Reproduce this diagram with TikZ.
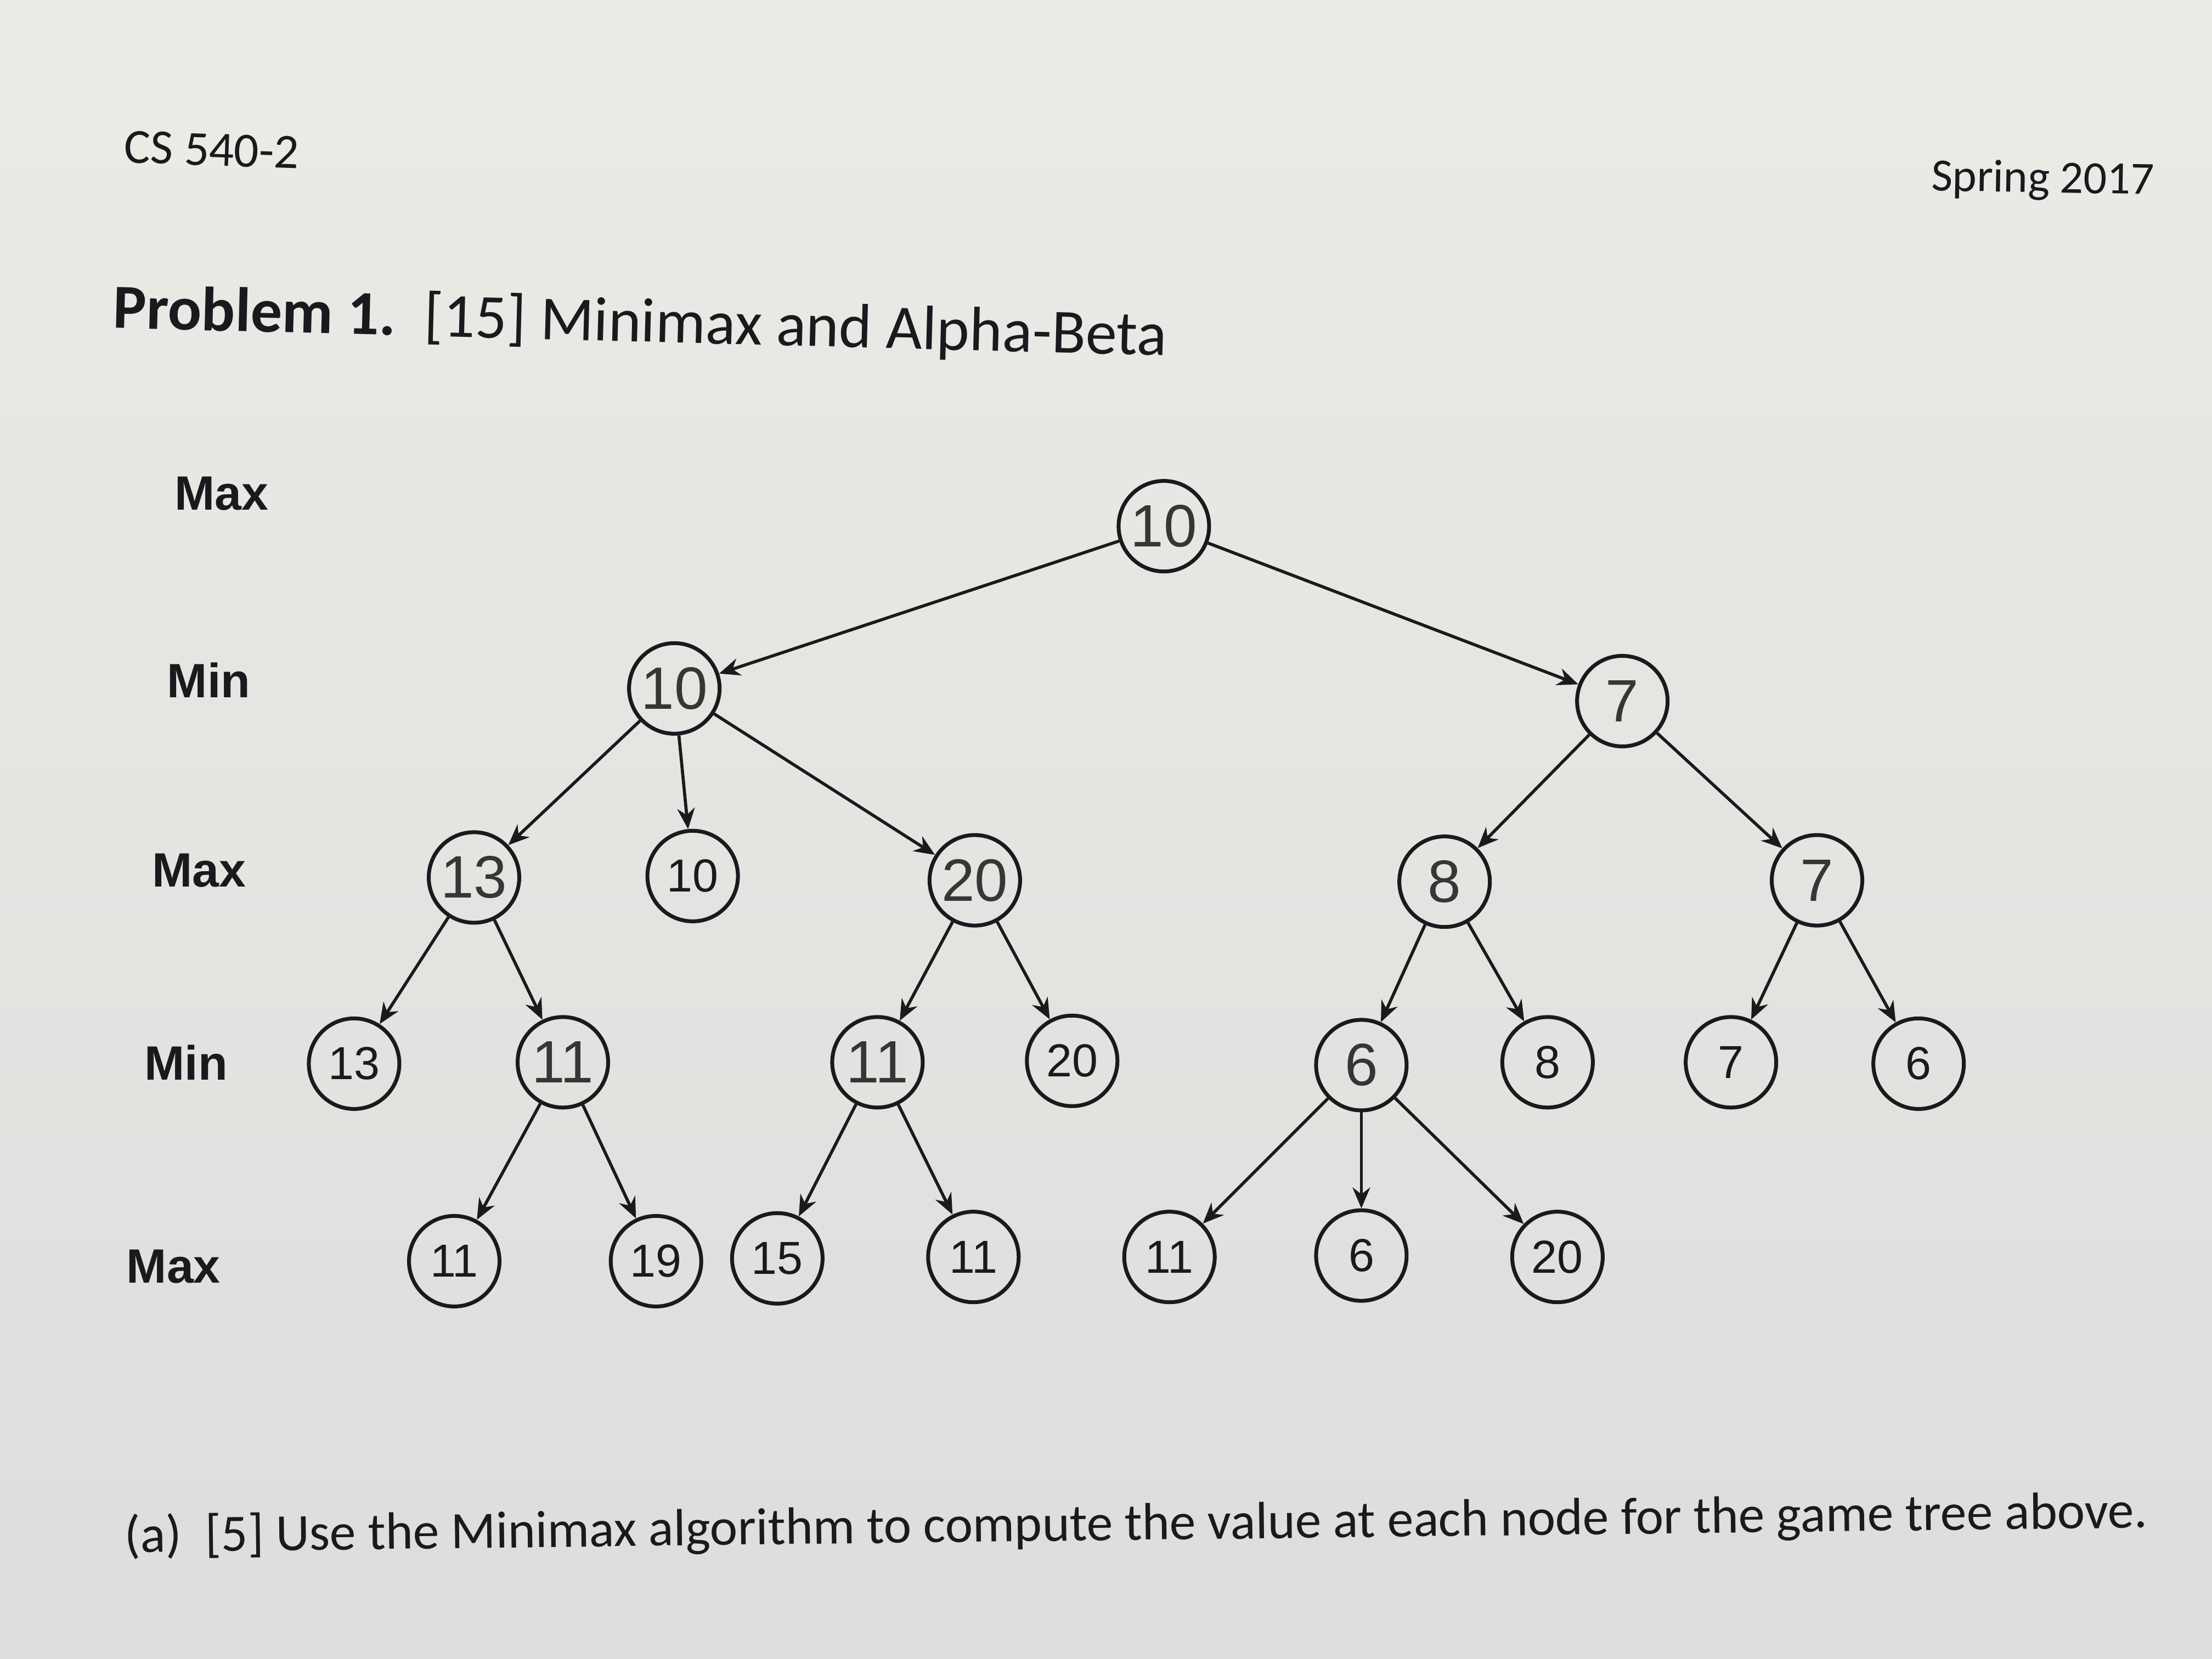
\documentclass[tikz,border=0pt]{standalone}
\usepackage{fontspec}
\setmainfont{Carlito}
\newfontfamily\arialf{Liberation Sans}
\usetikzlibrary{arrows.meta}
\definecolor{papertop}{HTML}{ECEBE6}
\definecolor{paperbot}{HTML}{DDDDDC}
\definecolor{ink}{HTML}{1A1A1E}
\definecolor{pencil}{HTML}{363636}
\begin{document}
\begin{tikzpicture}[x=0.025714cm,y=-0.025714cm,
  tnode/.style={circle,draw=ink,line width=2pt,minimum size=1.65cm,inner sep=0pt,
    font=\arialf\fontsize{24}{24}\selectfont,text=ink},
  hand/.style={tnode,font=\arialf\fontsize{31}{31}\selectfont,text=pencil},
  lvl/.style={font=\arialf\bfseries\fontsize{25}{25}\selectfont,text=ink},
  edge/.style={draw=ink,line width=1.6pt,-{Stealth[length=0.38cm,width=0.32cm]}},
  ptext/.style={text=ink,inner sep=0pt}
  ]
\shade[top color=papertop,bottom color=paperbot] (0,0) rectangle (1568,1176);
\useasboundingbox (0,0) rectangle (1568,1176);

% header and texts
\node[ptext,anchor=west,font=\fontsize{25.5}{26}\selectfont,rotate=-2] (hdr) at (88,104) {CS 540-2};
\node[ptext,font=\fontsize{24}{24}\selectfont,rotate=-1] (sem) at (1448,128) {Spring 2017};
\node[ptext,anchor=west,font=\fontsize{32.5}{33}\selectfont,rotate=-1.5] (title) at (80,220)
  {\textbf{Problem 1.}\ \ [15] Minimax and Alpha-Beta};
\node[ptext,anchor=west,font=\fontsize{27.2}{27}\selectfont,rotate=0.7] (qa) at (88,1090)
  {(a)\ \ [5] Use the Minimax algorithm to compute the value at each node for the game tree above.};

% level labels
\node[lvl] (l1) at (157,350) {Max};
\node[lvl] (l2) at (148,482) {Min};
\node[lvl] (l3) at (141,617) {Max};
\node[lvl] (l4) at (132,753) {Min};
\node[lvl] (l5) at (123,898) {Max};

% tree nodes
\node[hand] (r) at (825,373) {10};
\node[hand] (a) at (478,488) {10};
\node[hand] (b) at (1150,497) {7};
\node[hand] (a1) at (336,622) {13};
\node[tnode] (a2) at (491,621) {10};
\node[hand] (a3) at (691,624) {20};
\node[hand] (b1) at (1024,625) {8};
\node[hand] (b2) at (1288,624) {7};
\node[tnode] (a11) at (251,754) {13};
\node[hand] (a12) at (399,753) {11};
\node[hand] (a31) at (622,753) {11};
\node[tnode] (a32) at (760,752) {20};
\node[hand] (b11) at (965,755) {6};
\node[tnode] (b12) at (1097,753) {8};
\node[tnode] (b21) at (1227,753) {7};
\node[tnode] (b22) at (1360,754) {6};
\node[tnode] (a121) at (322,894) {11};
\node[tnode] (a122) at (465,894) {19};
\node[tnode] (a311) at (551,892) {15};
\node[tnode] (a312) at (690,891) {11};
\node[tnode] (b111) at (829,891) {11};
\node[tnode] (b112) at (965,890) {6};
\node[tnode] (b113) at (1104,891) {20};

% edges
\draw[edge] (r) -- (a);
\draw[edge] (r) -- (b);
\draw[edge] (a) -- (a1);
\draw[edge] (a) -- (a2);
\draw[edge] (a) -- (a3);
\draw[edge] (b) -- (b1);
\draw[edge] (b) -- (b2);
\draw[edge] (a1) -- (a11);
\draw[edge] (a1) -- (a12);
\draw[edge] (a3) -- (a31);
\draw[edge] (a3) -- (a32);
\draw[edge] (b1) -- (b11);
\draw[edge] (b1) -- (b12);
\draw[edge] (b2) -- (b21);
\draw[edge] (b2) -- (b22);
\draw[edge] (a12) -- (a121);
\draw[edge] (a12) -- (a122);
\draw[edge] (a31) -- (a311);
\draw[edge] (a31) -- (a312);
\draw[edge] (b11) -- (b111);
\draw[edge] (b11) -- (b112);
\draw[edge] (b11) -- (b113);
\end{tikzpicture}
\end{document}
